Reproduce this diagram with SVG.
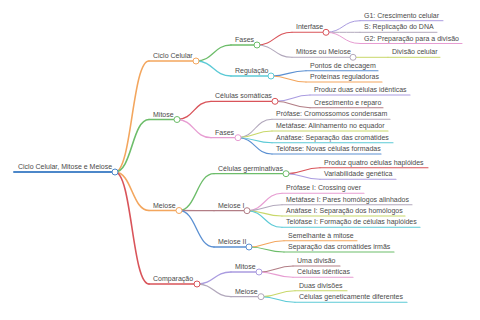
<svg xmlns="http://www.w3.org/2000/svg" width="480" height="320" viewBox="0 0 480 320">
<style>
text{font-family:"Liberation Sans",Arial,sans-serif;font-size:7px;fill:#4a4a4a}
path,line{fill:none;stroke-linecap:round}
circle{fill:#fff;stroke-width:1}
.d0{stroke-width:2}
.d1{stroke-width:1.6}
.d2{stroke-width:1.3}
.d3{stroke-width:1.1}
.d4{stroke-width:1}
.blue{stroke:#4c87c9}
.orange{stroke:#f3a65e}
.green{stroke:#6dbd6a}
.red{stroke:#d9545a}
.cyan{stroke:#5ccad6}
.purple{stroke:#aa9ce0}
.gray{stroke:#b2a8bc}
.pink{stroke:#e79dd2}
.yellow{stroke:#c8d86a}
.mauve{stroke:#b27e86}
.blue2{stroke:#5b90d2}
</style>
<g id="connectors">
<path class="d1 orange" d="M115,172 C132,172 132,61 149,61"/>
<path class="d1 green" d="M115,172 C132,172 132,119.5 149,119.5"/>
<path class="d1 orange" d="M115,172 C132,172 132,210.5 149,210.5"/>
<path class="d1 red" d="M115,172 C132,172 132,284 149,284"/>
<path class="d2 green" d="M196,61 C213.5,61 213.5,45 231,45"/>
<path class="d2 cyan" d="M196,61 C213.5,61 213.5,76 231,76"/>
<path class="d3 red" d="M257,45 C274.5,45 274.5,32.3 292,32.3"/>
<path class="d3 gray" d="M257,45 C274.5,45 274.5,57.3 292,57.3"/>
<path class="d4 purple" d="M326,32.3 C343,32.3 343,20.7 360,20.7"/>
<path class="d4 gray" d="M326,32.3 C343,32.3 343,32.3 360,32.3"/>
<path class="d4 pink" d="M326,32.3 C343,32.3 343,43.5 360,43.5"/>
<path class="d4 yellow" d="M353,57.3 L388,57.3"/>
<path class="d3 blue2" d="M271,76 C288.5,76 288.5,70.7 306,70.7"/>
<path class="d3 orange" d="M271,76 C288.5,76 288.5,82 306,82"/>
<path class="d2 red" d="M177,119.5 C194,119.5 194,101.3 211,101.3"/>
<path class="d2 pink" d="M177,119.5 C194,119.5 194,137.7 211,137.7"/>
<path class="d3 purple" d="M275,101.3 C292.5,101.3 292.5,95 310,95"/>
<path class="d3 mauve" d="M275,101.3 C292.5,101.3 292.5,107.7 310,107.7"/>
<path class="d3 gray" d="M238,137.7 C255,137.7 255,119.3 272,119.3"/>
<path class="d3 yellow" d="M238,137.7 C255,137.7 255,131 272,131"/>
<path class="d3 cyan" d="M238,137.7 C255,137.7 255,142.7 272,142.7"/>
<path class="d3 blue2" d="M238,137.7 C255,137.7 255,154 272,154"/>
<path class="d2 green" d="M179,210.5 C196.5,210.5 196.5,173.7 214,173.7"/>
<path class="d2 mauve" d="M179,210.5 C196.5,210.5 196.5,210.7 214,210.7"/>
<path class="d2 blue2" d="M179,210.5 C196.5,210.5 196.5,247 214,247"/>
<path class="d3 red" d="M286,173.7 C303,173.7 303,167.7 320,167.7"/>
<path class="d3 purple" d="M286,173.7 C303,173.7 303,179.3 320,179.3"/>
<path class="d3 pink" d="M247,210.7 C264.5,210.7 264.5,193.3 282,193.3"/>
<path class="d3 gray" d="M247,210.7 C264.5,210.7 264.5,204.7 282,204.7"/>
<path class="d3 yellow" d="M247,210.7 C264.5,210.7 264.5,216 282,216"/>
<path class="d3 cyan" d="M247,210.7 C264.5,210.7 264.5,227.3 282,227.3"/>
<path class="d3 orange" d="M249,247 C266.5,247 266.5,240.7 284,240.7"/>
<path class="d3 green" d="M249,247 C266.5,247 266.5,252 284,252"/>
<path class="d2 purple" d="M197,284 C214,284 214,272 231,272"/>
<path class="d2 gray" d="M197,284 C214,284 214,296.7 231,296.7"/>
<path class="d3 mauve" d="M259,272 C276,272 276,266 293,266"/>
<path class="d3 pink" d="M259,272 C276,272 276,277.3 293,277.3"/>
<path class="d3 yellow" d="M261,296.7 C278,296.7 278,290.7 295,290.7"/>
<path class="d3 cyan" d="M261,296.7 C278,296.7 278,302.3 295,302.3"/>
</g>
<g id="n-root"><line class="d0 blue" x1="14" y1="172" x2="115" y2="172"/><circle class="blue" cx="115" cy="172" r="3"/><text x="18" y="169">Ciclo Celular, Mitose e Meiose</text></g>
<g id="n-ciclo"><line class="d1 orange" x1="149" y1="61" x2="196" y2="61"/><circle class="orange" cx="196" cy="61" r="3"/><text x="153" y="58">Ciclo Celular</text></g>
<g id="n-cc-fases"><line class="d2 green" x1="231" y1="45" x2="257" y2="45"/><circle class="green" cx="257" cy="45" r="3"/><text x="235" y="42">Fases</text></g>
<g id="n-interfase"><line class="d3 red" x1="292" y1="32.3" x2="326" y2="32.3"/><circle class="red" cx="326" cy="32.3" r="3"/><text x="296" y="29.3">Interfase</text></g>
<g id="n-g1"><line class="d4 purple" x1="360" y1="20.7" x2="443" y2="20.7"/><text x="364" y="17.7">G1: Crescimento celular</text></g>
<g id="n-s"><line class="d4 gray" x1="360" y1="32.3" x2="437" y2="32.3"/><text x="364" y="29.3">S: Replicação do DNA</text></g>
<g id="n-g2"><line class="d4 pink" x1="360" y1="43.5" x2="462" y2="43.5"/><text x="364" y="40.5">G2: Preparação para a divisão</text></g>
<g id="n-mitmei"><line class="d3 gray" x1="292" y1="57.3" x2="353" y2="57.3"/><circle class="gray" cx="353" cy="57.3" r="3"/><text x="296" y="54.3">Mitose ou Meiose</text></g>
<g id="n-divcel"><line class="d4 yellow" x1="388" y1="57.3" x2="440" y2="57.3"/><text x="392" y="54.3">Divisão celular</text></g>
<g id="n-regulacao"><line class="d2 cyan" x1="231" y1="76" x2="271" y2="76"/><circle class="cyan" cx="271" cy="76" r="3"/><text x="235" y="73">Regulação</text></g>
<g id="n-pontos"><line class="d3 blue2" x1="306" y1="70.7" x2="378" y2="70.7"/><text x="310" y="67.7">Pontos de checagem</text></g>
<g id="n-proteinas"><line class="d3 orange" x1="306" y1="82" x2="382" y2="82"/><text x="310" y="79">Proteínas reguladoras</text></g>
<g id="n-mitose"><line class="d1 green" x1="149" y1="119.5" x2="177" y2="119.5"/><circle class="green" cx="177" cy="119.5" r="3"/><text x="153" y="116.5">Mitose</text></g>
<g id="n-somaticas"><line class="d2 red" x1="211" y1="101.3" x2="275" y2="101.3"/><circle class="red" cx="275" cy="101.3" r="3"/><text x="215" y="98.3">Células somáticas</text></g>
<g id="n-produz2"><line class="d3 purple" x1="310" y1="95" x2="410" y2="95"/><text x="314" y="92">Produz duas células idênticas</text></g>
<g id="n-cresc"><line class="d3 mauve" x1="310" y1="107.7" x2="383" y2="107.7"/><text x="314" y="104.7">Crescimento e reparo</text></g>
<g id="n-mit-fases"><line class="d2 pink" x1="211" y1="137.7" x2="238" y2="137.7"/><circle class="pink" cx="238" cy="137.7" r="3"/><text x="215" y="134.7">Fases</text></g>
<g id="n-profase"><line class="d3 gray" x1="272" y1="119.3" x2="390" y2="119.3"/><text x="276" y="116.3">Prófase: Cromossomos condensam</text></g>
<g id="n-metafase"><line class="d3 yellow" x1="272" y1="131" x2="388" y2="131"/><text x="276" y="128">Metáfase: Alinhamento no equador</text></g>
<g id="n-anafase"><line class="d3 cyan" x1="272" y1="142.7" x2="393" y2="142.7"/><text x="276" y="139.7">Anáfase: Separação das cromátides</text></g>
<g id="n-telofase"><line class="d3 blue2" x1="272" y1="154" x2="381" y2="154"/><text x="276" y="151">Telófase: Novas células formadas</text></g>
<g id="n-meiose"><line class="d1 orange" x1="149" y1="210.5" x2="179" y2="210.5"/><circle class="orange" cx="179" cy="210.5" r="3"/><text x="153" y="207.5">Meiose</text></g>
<g id="n-germ"><line class="d2 green" x1="214" y1="173.7" x2="286" y2="173.7"/><circle class="green" cx="286" cy="173.7" r="3"/><text x="218" y="170.7">Células germinativas</text></g>
<g id="n-produz4"><line class="d3 red" x1="320" y1="167.7" x2="428" y2="167.7"/><text x="324" y="164.7">Produz quatro células haplóides</text></g>
<g id="n-variab"><line class="d3 purple" x1="320" y1="179.3" x2="396" y2="179.3"/><text x="324" y="176.3">Variabilidade genética</text></g>
<g id="n-meiose1"><line class="d2 mauve" x1="214" y1="210.7" x2="247" y2="210.7"/><circle class="mauve" cx="247" cy="210.7" r="3"/><text x="218" y="207.7">Meiose I</text></g>
<g id="n-prof1"><line class="d3 pink" x1="282" y1="193.3" x2="364" y2="193.3"/><text x="286" y="190.3">Prófase I: Crossing over</text></g>
<g id="n-meta1"><line class="d3 gray" x1="282" y1="204.7" x2="412" y2="204.7"/><text x="286" y="201.7">Metáfase I: Pares homólogos alinhados</text></g>
<g id="n-ana1"><line class="d3 yellow" x1="282" y1="216" x2="405" y2="216"/><text x="286" y="213">Anáfase I: Separação dos homólogos</text></g>
<g id="n-telo1"><line class="d3 cyan" x1="282" y1="227.3" x2="420" y2="227.3"/><text x="286" y="224.3">Telófase I: Formação de células haplóides</text></g>
<g id="n-meiose2"><line class="d2 blue2" x1="214" y1="247" x2="249" y2="247"/><circle class="blue2" cx="249" cy="247" r="3"/><text x="218" y="244">Meiose II</text></g>
<g id="n-semel"><line class="d3 orange" x1="284" y1="240.7" x2="357" y2="240.7"/><text x="288" y="237.7">Semelhante à mitose</text></g>
<g id="n-separ"><line class="d3 green" x1="284" y1="252" x2="394" y2="252"/><text x="288" y="249">Separação das cromátides irmãs</text></g>
<g id="n-comp"><line class="d1 red" x1="149" y1="284" x2="197" y2="284"/><circle class="red" cx="197" cy="284" r="3"/><text x="153" y="281">Comparação</text></g>
<g id="n-comp-mit"><line class="d2 purple" x1="231" y1="272" x2="259" y2="272"/><circle class="purple" cx="259" cy="272" r="3"/><text x="235" y="269">Mitose</text></g>
<g id="n-uma"><line class="d3 mauve" x1="293" y1="266" x2="340" y2="266"/><text x="297" y="263">Uma divisão</text></g>
<g id="n-ident"><line class="d3 pink" x1="293" y1="277.3" x2="353" y2="277.3"/><text x="297" y="274.3">Células idênticas</text></g>
<g id="n-comp-mei"><line class="d2 gray" x1="231" y1="296.7" x2="261" y2="296.7"/><circle class="gray" cx="261" cy="296.7" r="3"/><text x="235" y="293.7">Meiose</text></g>
<g id="n-duas"><line class="d3 yellow" x1="295" y1="290.7" x2="347" y2="290.7"/><text x="299" y="287.7">Duas divisões</text></g>
<g id="n-difer"><line class="d3 cyan" x1="295" y1="302.3" x2="407" y2="302.3"/><text x="299" y="299.3">Células geneticamente diferentes</text></g>
</svg>
